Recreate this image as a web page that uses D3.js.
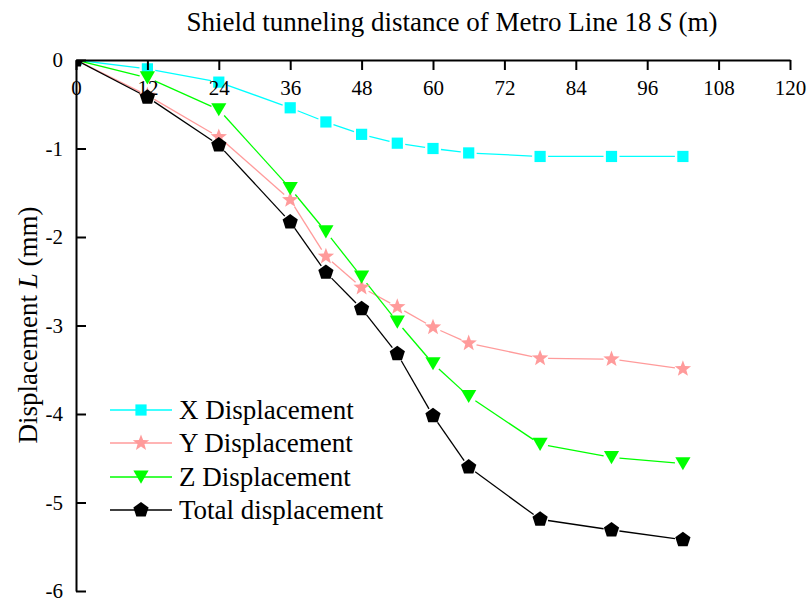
<!DOCTYPE html>
<html>
<head>
<meta charset="utf-8">
<script src="https://cdn.jsdelivr.net/npm/d3@7"></script>
<style>
  html, body { margin: 0; padding: 0; background: #ffffff; }
  svg { display: block; font-family: "Liberation Serif", "Times New Roman", serif; }
</style>
</head>
<body>
<svg id="chart" width="811" height="598"></svg>
<script>
// Tunneling distance (m) at each survey step
const distance = [0, 12, 24, 36, 42, 48, 54, 60, 66, 78, 90, 102];
// Displacement components (mm)
const xDisp = [0, -0.10, -0.25, -0.54, -0.70, -0.84, -0.94, -1.00, -1.05, -1.09, -1.09, -1.09];
const yDisp = [0, -0.40, -0.87, -1.58, -2.22, -2.57, -2.79, -3.02, -3.20, -3.37, -3.38, -3.49];
const zDisp = [0, -0.20, -0.56, -1.45, -1.94, -2.45, -2.96, -3.43, -3.80, -4.34, -4.49, -4.56];
const totalDisp = [0, -0.42, -0.96, -1.83, -2.40, -2.81, -3.32, -4.02, -4.60, -5.19, -5.31, -5.42];

const xTicks = [0, 12, 24, 36, 48, 60, 72, 84, 96, 108, 120];
const yTicks = [0, -1, -2, -3, -4, -5, -6];
const seriesNames = ["X Displacement", "Y Displacement", "Z Displacement", "Total displacement"];

const svg = d3.select("#chart");
const plotLeft = 76, plotRight = 790, plotTop = 60, plotBottom = 591;

const x = d3.scaleLinear().domain([0, 120]).range([plotLeft, plotRight]);
const y = d3.scaleLinear().domain([0, -6]).range([plotTop, plotBottom]);

// Marker shapes
function polygon(n, r, rot) {
  const pts = d3.range(n).map(i => {
    const a = rot + i * 2 * Math.PI / n;
    return [r * Math.cos(a), r * Math.sin(a)];
  });
  return "M" + pts.map(p => p.join(",")).join("L") + "Z";
}
function star(ro, ri) {
  const pts = d3.range(10).map(i => {
    const a = -Math.PI / 2 + i * Math.PI / 5;
    const r = i % 2 === 0 ? ro : ri;
    return [r * Math.cos(a), r * Math.sin(a)];
  });
  return "M" + pts.map(p => p.join(",")).join("L") + "Z";
}
const shapes = {
  square: "M-5.6,-5.6H5.6V5.6H-5.6Z",
  star: star(8.6, 3.6),
  triDown: "M-7.6,-6.4L7.6,-6.4L0,6.8Z",
  pentagon: polygon(5, 8, -Math.PI / 2)
};

const series = [
  { name: seriesNames[0], values: xDisp, color: "#00ffff", shape: shapes.square },
  { name: seriesNames[1], values: yDisp, color: "#ff9b9b", shape: shapes.star },
  { name: seriesNames[2], values: zDisp, color: "#00ff00", shape: shapes.triDown },
  { name: seriesNames[3], values: totalDisp, color: "#000000", shape: shapes.pentagon }
];

svg.append("defs").append("clipPath").attr("id", "plotClip")
  .append("rect").attr("x", plotLeft).attr("y", plotTop)
  .attr("width", plotRight - plotLeft + 20).attr("height", plotBottom - plotTop);

const plot = svg.append("g").attr("clip-path", "url(#plotClip)");

// Lines are broken around each marker
const gap = 8;
series.forEach(s => {
  const pts = distance.map((d, i) => [x(d), y(s.values[i])]);
  const segs = [];
  for (let i = 0; i < pts.length - 1; i++) {
    const [x0, y0] = pts[i], [x1, y1] = pts[i + 1];
    const len = Math.hypot(x1 - x0, y1 - y0);
    if (len <= 2 * gap) continue;
    const ux = (x1 - x0) / len, uy = (y1 - y0) / len;
    const g0 = i === 0 ? 0 : gap;
    segs.push([x0 + ux * g0, y0 + uy * g0, x1 - ux * gap, y1 - uy * gap]);
  }
  plot.append("g").selectAll("line").data(segs).join("line")
    .attr("x1", d => d[0]).attr("y1", d => d[1])
    .attr("x2", d => d[2]).attr("y2", d => d[3])
    .attr("stroke", s.color).attr("stroke-width", 1.3);
});
series.forEach(s => {
  plot.append("g").selectAll("path").data(distance).join("path")
    .attr("transform", (d, i) => `translate(${x(d)},${y(s.values[i])})`)
    .attr("d", s.shape)
    .attr("fill", s.color);
});

// Top x axis with inward ticks
const xAxis = svg.append("g").attr("transform", `translate(0,${plotTop})`)
  .call(d3.axisTop(x).tickValues(xTicks).tickSize(-10).tickSizeOuter(0).tickPadding(0));
xAxis.select(".domain").attr("stroke", "#000").attr("stroke-width", 2);
xAxis.selectAll(".tick line").attr("stroke", "#000").attr("stroke-width", 2);
xAxis.selectAll(".tick text")
  .attr("y", 35).attr("dy", 0)
  .attr("font-size", 21).attr("fill", "#000")
  .attr("font-family", "Liberation Serif, serif");

// Left y axis with inward ticks
const yAxis = svg.append("g").attr("transform", `translate(${plotLeft},0)`)
  .call(d3.axisLeft(y).tickValues(yTicks).tickSize(-10).tickSizeOuter(0)
    .tickFormat(d => d === 0 ? "0" : "-" + Math.abs(d)));
yAxis.select(".domain").attr("stroke", "#000").attr("stroke-width", 2);
yAxis.selectAll(".tick line").attr("stroke", "#000").attr("stroke-width", 2);
yAxis.selectAll(".tick text")
  .attr("x", -13).attr("dy", "0.32em")
  .attr("font-size", 21).attr("fill", "#000")
  .attr("font-family", "Liberation Serif, serif");

// Axis titles
const title = svg.append("text")
  .attr("x", 452).attr("y", 31)
  .attr("text-anchor", "middle").attr("font-size", 27).attr("fill", "#000");
title.append("tspan").text("Shield tunneling distance of Metro Line 18 ");
title.append("tspan").attr("font-style", "italic").text("S");
title.append("tspan").text(" (m)");

const ylab = svg.append("text")
  .attr("transform", "translate(37,325) rotate(-90)")
  .attr("text-anchor", "middle").attr("font-size", 27).attr("fill", "#000");
ylab.append("tspan").text("Displacement ");
ylab.append("tspan").attr("font-style", "italic").text("L");
ylab.append("tspan").text(" (mm)");

// Legend
const legend = svg.append("g");
const rowY = [410, 443, 477, 510];
series.forEach((s, i) => {
  const g = legend.append("g").attr("transform", `translate(0,${rowY[i]})`);
  g.append("line").attr("x1", 110).attr("x2", 172).attr("y1", 0).attr("y2", 0)
    .attr("stroke", s.color).attr("stroke-width", 1.3);
  g.append("path").attr("transform", "translate(141,0)").attr("d", s.shape).attr("fill", s.color);
  g.append("text").attr("x", 179).attr("y", 0).attr("dy", "0.34em")
    .attr("font-size", 27).attr("fill", "#000").text(s.name);
});
</script>
</body>
</html>
